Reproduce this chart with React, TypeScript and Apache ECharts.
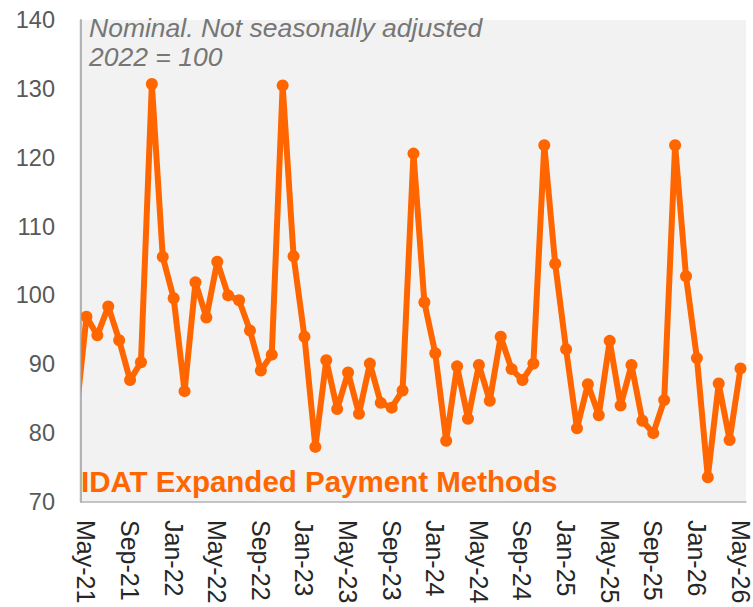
import React, { useEffect, useRef } from "react";
import * as echarts from "echarts";

// Monthly months shown on the axis (May-21 .. May-26)
const months: string[] = [
  "May-21","Jun-21","Jul-21","Aug-21","Sep-21","Oct-21","Nov-21","Dec-21",
  "Jan-22","Feb-22","Mar-22","Apr-22","May-22","Jun-22","Jul-22","Aug-22","Sep-22","Oct-22","Nov-22","Dec-22",
  "Jan-23","Feb-23","Mar-23","Apr-23","May-23","Jun-23","Jul-23","Aug-23","Sep-23","Oct-23","Nov-23","Dec-23",
  "Jan-24","Feb-24","Mar-24","Apr-24","May-24","Jun-24","Jul-24","Aug-24","Sep-24","Oct-24","Nov-24","Dec-24",
  "Jan-25","Feb-25","Mar-25","Apr-25","May-25","Jun-25","Jul-25","Aug-25","Sep-25","Oct-25","Nov-25","Dec-25",
  "Jan-26","Feb-26","Mar-26","Apr-26","May-26",
];

// Value of the month before the axis starts (Apr-21), only partly visible at the left edge
const leadValue = 82;

// IDAT Expanded Payment Methods index (2022 = 100)
const values: number[] = [
  96.9, 94.2, 98.4, 93.5, 87.7, 90.3, 130.7, 105.6,
  99.6, 86.1, 101.9, 96.8, 104.9, 100.0, 99.3, 94.9, 89.1, 91.4, 130.5, 105.7,
  94.0, 78.0, 90.6, 83.5, 88.8, 82.8, 90.1, 84.4, 83.7, 86.2, 120.6, 99.0,
  91.6, 78.9, 89.7, 82.1, 89.9, 84.7, 94.0, 89.3, 87.7, 90.1, 121.8, 104.6,
  92.2, 80.7, 87.1, 82.6, 93.4, 84.0, 89.9, 81.8, 80.0, 84.8, 121.8, 102.8,
  90.9, 73.6, 87.2, 79.0, 89.4,
];

// Every fourth month is labelled
const labelStep = 4;
const yTicks = { min: 70, max: 140, interval: 10 };

const seriesName = "IDAT Expanded Payment Methods";
const noteLines = ["Nominal. Not seasonally adjusted", "2022 = 100"];

export default function App() {
  const ref = useRef<HTMLDivElement>(null);

  useEffect(() => {
    if (!ref.current) return;
    const chart = echarts.init(ref.current, null, { renderer: "svg" });
    const data: number[][] = [[-1, leadValue]];
    values.forEach((v, i) => data.push([i, v]));
    const labelIdx: number[] = [];
    for (let i = 0; i < months.length; i += labelStep) labelIdx.push(i);

    const font = "Arial, 'Liberation Sans', sans-serif";
    chart.setOption({
      animation: false,
      grid: {
        left: 81,
        right: 3,
        top: 20,
        bottom: 105,
        show: true,
        backgroundColor: "#f2f2f2",
        borderWidth: 0,
      },
      xAxis: {
        type: "value",
        min: -0.5,
        max: months.length - 0.5,
        splitLine: { show: false },
        axisLine: { show: true, onZero: false, lineStyle: { color: "#b3b3b3", width: 1.5 } },
        axisTick: { show: false },
        axisLabel: {
          customValues: labelIdx,
          rotate: -90,
          margin: 18,
          fontSize: 25,
          color: "#262626",
          fontFamily: font,
          formatter: (v: number) => months[Math.round(v)] ?? "",
        },
      },
      yAxis: {
        type: "value",
        min: yTicks.min,
        max: yTicks.max,
        interval: yTicks.interval,
        splitLine: { show: false },
        axisLine: { show: true, onZero: false, lineStyle: { color: "#b3b3b3", width: 2 } },
        axisTick: { show: false },
        axisLabel: {
          fontSize: 23.5,
          color: "#595959",
          margin: 26,
          fontFamily: font,
        },
      },
      series: [
        {
          type: "line",
          name: seriesName,
          data,
          clip: true,
          z: 3,
          symbol: "circle",
          symbolSize: 12,
          showAllSymbol: true,
          lineStyle: { color: "#ff6600", width: 6 },
          itemStyle: { color: "#ff6600" },
        },
      ],
      graphic: [
        {
          type: "rect",
          z: 4,
          silent: true,
          shape: { x: 64, y: 20, width: 16, height: 483 },
          style: { fill: "#ffffff" },
        },
        {
          type: "line",
          z: 6,
          silent: true,
          shape: { x1: 80.5, y1: 20, x2: 80.5, y2: 502 },
          style: { stroke: "#b3b3b3", lineWidth: 1.5 },
        },
        {
          type: "text",
          left: 89,
          top: 13,
          z: 10,
          style: {
            text: noteLines.join("\n"),
            font: `italic 26.5px ${font}`,
            lineHeight: 29.5,
            fill: "#767676",
          },
        },
        {
          type: "text",
          left: 81,
          top: 466,
          z: 10,
          style: {
            text: seriesName,
            font: `bold 29.5px ${font}`,
            fill: "#ff6600",
          },
        },
      ],
    });
    return () => chart.dispose();
  }, []);

  return (
    <div
      ref={ref}
      style={{ position: "absolute", left: 0, top: 0, width: 753, height: 607 }}
    />
  );
}
